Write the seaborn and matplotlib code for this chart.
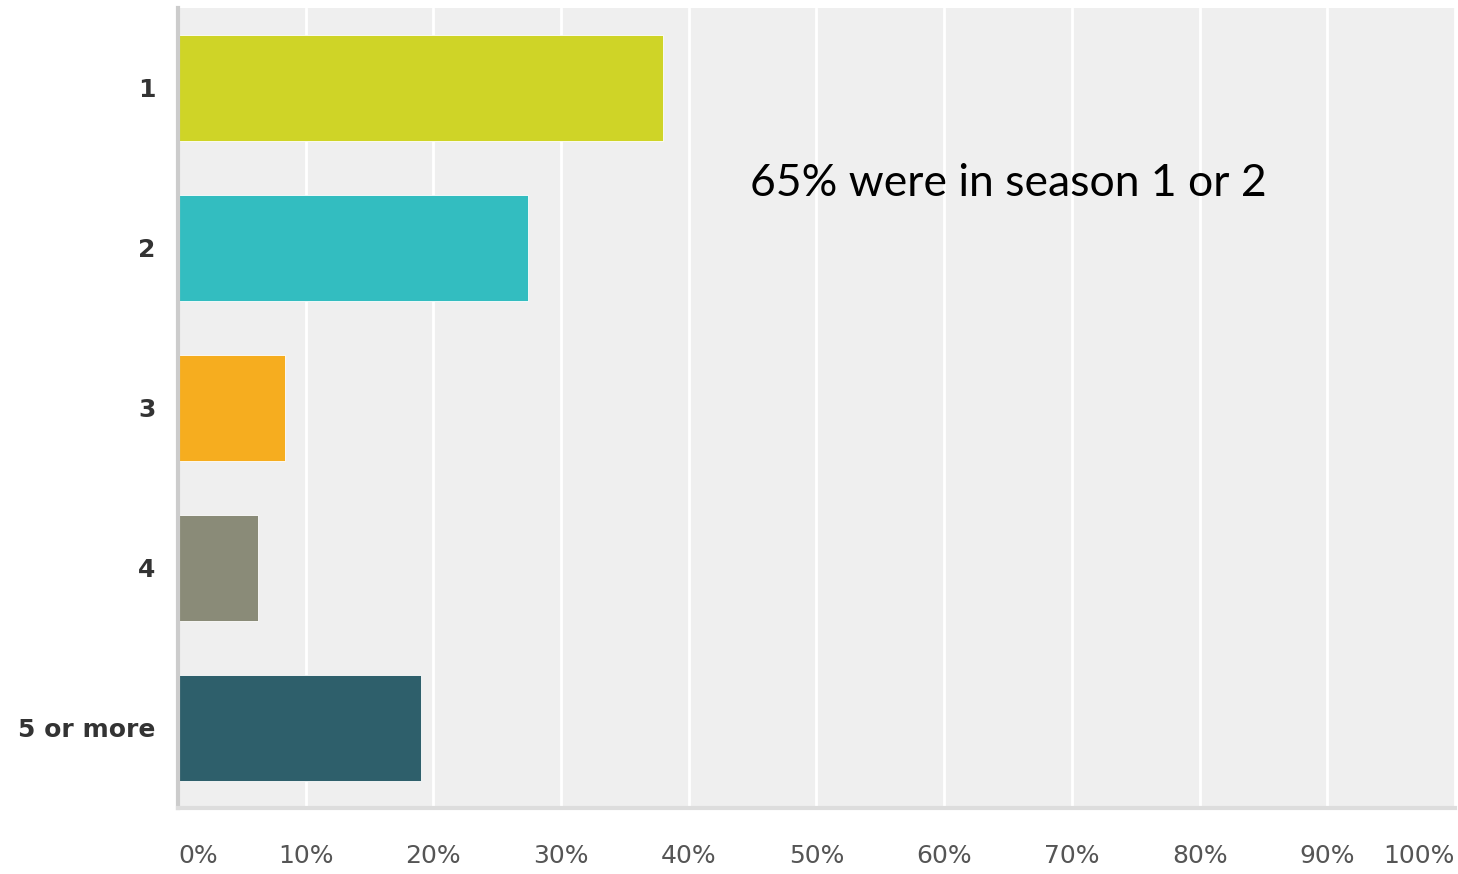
import matplotlib.pyplot as plt
import seaborn as sns
import pandas as pd

# survey answers and share of respondents (percent)
seasons = ['1', '2', '3', '4', '5 or more']
shares = [38.0, 27.4, 8.4, 6.3, 19.0]
bar_colors = ['#cfd427', '#33bdc0', '#f6ad1f', '#8a8b78', '#2e5f6b']
tick_values = [0, 10, 20, 30, 40, 50, 60, 70, 80, 90, 100]
tick_labels = [str(v) + '%' for v in tick_values]
note = '65% were in season 1 or 2'

df = pd.DataFrame({'season': seasons, 'share': shares})

sns.set_style('white')
plt.rcParams['font.family'] = ['DejaVu Sans']

fig = plt.figure(figsize=(14.58, 8.74), dpi=100)
ax = fig.add_axes([0.122, 0.0755, 0.876, 0.9155])
ax.set_facecolor('#efefef')

sns.barplot(data=df, x='share', y='season', hue='season', palette=bar_colors,
            orient='h', width=0.66, saturation=1, edgecolor='#ffffff',
            linewidth=0.6, legend=False, ax=ax)

ax.set_xlim(0, 100)
ax.set_xticks(tick_values)
ax.set_xticklabels(tick_labels, fontsize=18, color='#555555')
labels = ax.get_xticklabels()
labels[0].set_horizontalalignment('left')
labels[-1].set_horizontalalignment('right')
ax.tick_params(axis='x', length=0, pad=26)
ax.tick_params(axis='y', length=0, pad=16)
for lbl in ax.get_yticklabels():
    lbl.set_fontsize(18)
    lbl.set_fontweight('bold')
    lbl.set_color('#333333')

ax.grid(axis='x', color='white', linewidth=2)
ax.set_axisbelow(True)
ax.set_xlabel('')
ax.set_ylabel('')

for side in ['top', 'right']:
    ax.spines[side].set_visible(False)
ax.spines['left'].set_color('#cccccc')
ax.spines['left'].set_linewidth(3)
ax.spines['bottom'].set_color('#dddddd')
ax.spines['bottom'].set_linewidth(3)

ax.text(65, 0.6, note, fontsize=32, color='black', ha='center', va='center',
        family=['Lato', 'DejaVu Sans'])

plt.savefig('out.png', dpi=100)
